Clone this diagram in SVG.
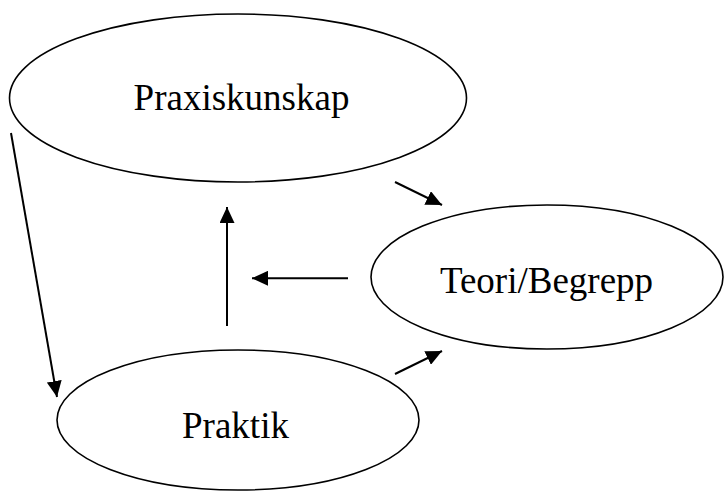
<svg xmlns="http://www.w3.org/2000/svg" width="724" height="491" viewBox="0 0 724 491">
<style>
.node ellipse{fill:#fff;stroke:#000;stroke-width:1.6}
.node text{font-family:"Liberation Serif","Times New Roman",serif;font-size:37px;fill:#000;text-anchor:middle}
.conn line{stroke:#000;stroke-width:2;marker-end:url(#ah)}
</style>
<defs>
<marker id="ah" markerUnits="userSpaceOnUse" markerWidth="16" markerHeight="15" refX="16" refY="7.5" orient="auto" viewBox="0 0 16 15">
<path d="M0,0 L16,7.5 L0,15 z" fill="#000"/>
</marker>
</defs>
<g id="praxiskunskap" class="node">
<ellipse cx="238" cy="98" rx="228.5" ry="84"/>
<text x="241.5" y="110">Praxiskunskap</text>
</g>
<g id="teori" class="node">
<ellipse cx="547" cy="277" rx="176" ry="72"/>
<text x="546.5" y="293">Teori/Begrepp</text>
</g>
<g id="praktik" class="node">
<ellipse cx="238" cy="420" rx="181" ry="70"/>
<text x="235.5" y="438">Praktik</text>
</g>
<g id="connectors" class="conn">
<line x1="11" y1="133" x2="57" y2="397"/>
<line x1="395" y1="182" x2="442" y2="205"/>
<line x1="227" y1="326" x2="227" y2="207"/>
<line x1="348" y1="278.3" x2="252" y2="278.3"/>
<line x1="395" y1="374" x2="442" y2="351"/>
</g>
</svg>
